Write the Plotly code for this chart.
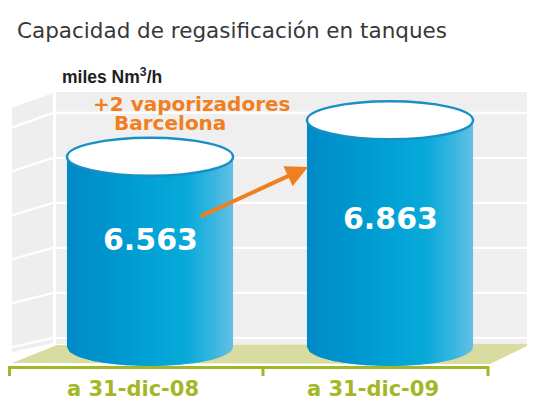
import numpy as np
import plotly.graph_objects as go

# ---------------- data ----------------
TITLE = "Capacidad de regasificación en tanques"
UNIT = "miles Nm<sup>3</sup>/h"
CATEGORIES = ["a 31-dic-08", "a 31-dic-09"]
VALUES = [6563, 6863]
NOTE_LINES = ["+2 vaporizadores", "Barcelona"]

# ---------------- layout constants ----------------
OFF = 8                     # page body margin around the figure
W, H = 535 - OFF, 403 - OFF
BASE = 5000                 # value on which the cylinders stand
Y_RANGE = [4539.5, 7786]
X_RANGE = [-0.5917, 1.6042]
R = 0.346                   # cylinder radius (x units)
E_PX = 19                   # ellipse half-height (pixels)
Y_SPAN = Y_RANGE[1] - Y_RANGE[0]
E = E_PX * Y_SPAN / H       # ellipse half-height (y units)
GRID0, GRID_STEP, GRID_N = 5074, 370, 6

ORANGE = "#f07f21"
OLIVE = "#a3b726"
BLUE_LINE = "#1790c6"
STOPS = [(0.0, (0, 137, 198)), (0.45, (0, 160, 212)), (0.72, (8, 170, 217)),
         (0.88, (55, 182, 224)), (1.0, (100, 192, 228))]


def grad(t):
    for (t0, c0), (t1, c1) in zip(STOPS[:-1], STOPS[1:]):
        if t <= t1:
            f = (t - t0) / (t1 - t0)
            c = [round(a + (b - a) * f) for a, b in zip(c0, c1)]
            return f"rgb({c[0]},{c[1]},{c[2]})"
    c = STOPS[-1][1]
    return f"rgb({c[0]},{c[1]},{c[2]})"


def px(x):
    """screen pixel x -> paper"""
    return (x - OFF) / W


def py(y):
    """screen pixel y -> paper"""
    return 1 - (y - OFF) / H


def ypx_of(v):
    """data y -> screen pixel y"""
    return OFF + (Y_RANGE[1] - v) / Y_SPAN * H


def ppath(pts, close=True):
    s = "M " + " L ".join(f"{px(x):.5f},{py(y):.5f}" for x, y in pts)
    return s + (" Z" if close else "")


fig = go.Figure()
shapes = []

# back wall
shapes.append(dict(type="rect", xref="paper", yref="paper", layer="below",
                   x0=px(56), x1=px(533), y0=py(344), y1=py(92),
                   fillcolor="#efefef", line=dict(width=0)))
# left wall
shapes.append(dict(type="path", xref="paper", yref="paper", layer="below",
                   path=ppath([(12, 108), (53, 93), (53, 343), (12, 352)]),
                   fillcolor="#eeeeee", line=dict(width=0)))
# gridlines (back wall + slanted on the side wall)
for k in range(GRID_N):
    gv = GRID0 + k * GRID_STEP
    shapes.append(dict(type="line", xref="paper", yref="y", layer="below",
                       x0=px(56), x1=px(533), y0=gv, y1=gv,
                       line=dict(color="white", width=2.2)))
    yr = ypx_of(gv)
    slant = 15 - 6 * (yr - 93) / (343 - 93)
    shapes.append(dict(type="path", xref="paper", yref="paper", layer="below",
                       path=ppath([(12, yr + slant), (53, yr)], close=False),
                       line=dict(color="white", width=2.2)))
# floor
shapes.append(dict(type="path", xref="paper", yref="paper", layer="below",
                   path=ppath([(12, 363), (57, 345), (531, 344), (490, 364)]),
                   fillcolor="#d9dca1", line=dict(width=0)))
# front axis
shapes.append(dict(type="path", xref="paper", yref="paper", layer="above",
                   path=ppath([(9.5, 376), (9.5, 367.5), (488, 367.5), (488, 376)], close=False),
                   line=dict(color=OLIVE, width=3)))
shapes.append(dict(type="line", xref="paper", yref="paper", layer="above",
                   x0=px(263), x1=px(263), y0=py(367.5), y1=py(376),
                   line=dict(color=OLIVE, width=3)))

# cylinders: gradient body stripes
N = 48
for i, v in enumerate(VALUES):
    edges = np.linspace(i - R, i + R, N + 1)
    dx = edges[1] - edges[0]
    for j in range(N):
        xa = edges[j]
        xb = min(edges[j + 1] + 0.4 * dx, i + R)
        xs = np.linspace(xa, xb, 5)
        ys = BASE - E * np.sqrt(np.clip(1 - ((xs - i) / R) ** 2, 0, 1))
        fig.add_trace(go.Scatter(
            x=list(xs) + [xb, xa], y=list(ys) + [v, v],
            mode="lines", fill="toself", fillcolor=grad((j + 0.5) / N),
            line=dict(width=0), hoverinfo="skip", showlegend=False))
    # top ellipse
    shapes.append(dict(type="circle", xref="x", yref="y", layer="above",
                       x0=i - R, x1=i + R, y0=v - E, y1=v + E,
                       fillcolor="white", line=dict(color=BLUE_LINE, width=2.5)))

annotations = []
# value labels
for i, v in enumerate(VALUES):
    annotations.append(dict(
        x=i, y=BASE + 0.565 * (v - BASE), xref="x", yref="y",
        text=f"{v:,}".replace(",", "."), showarrow=False,
        font=dict(family="DejaVu Sans", size=30, color="white", weight="bold"),
        xanchor="center", yanchor="middle"))
# category labels
for i, c in enumerate(CATEGORIES):
    annotations.append(dict(
        x=i - 0.07, y=py(389), xref="x", yref="paper", text=c, showarrow=False,
        font=dict(family="DejaVu Sans", size=21, color=OLIVE, weight="bold"),
        xanchor="center", yanchor="middle"))
# title
annotations.append(dict(
    x=px(15), y=py(31), xref="paper", yref="paper", text=TITLE, showarrow=False,
    font=dict(family="DejaVu Sans", size=21.5, color="#383838"),
    xanchor="left", yanchor="middle"))
# unit
annotations.append(dict(
    x=px(60), y=py(76), xref="paper", yref="paper", text=UNIT, showarrow=False,
    font=dict(family="Liberation Sans", size=17.5, color="#1e1e1e", weight="bold"),
    xanchor="left", yanchor="middle"))
# orange note
annotations.append(dict(
    x=px(91), y=py(104), xref="paper", yref="paper", text=NOTE_LINES[0], showarrow=False,
    font=dict(family="DejaVu Sans", size=20, color=ORANGE, weight="bold"),
    xanchor="left", yanchor="middle"))
annotations.append(dict(
    x=px(112), y=py(123), xref="paper", yref="paper", text=NOTE_LINES[1], showarrow=False,
    font=dict(family="DejaVu Sans", size=20, color=ORANGE, weight="bold"),
    xanchor="left", yanchor="middle"))
# arrow
annotations.append(dict(
    x=px(308), y=py(167), xref="paper", yref="paper", text="", showarrow=True,
    ax=-109, ay=50, arrowhead=2, arrowsize=1.1, arrowwidth=4,
    arrowcolor=ORANGE, standoff=0))

fig.update_layout(
    width=W, height=H, autosize=False,
    margin=dict(l=0, r=0, t=0, b=0),
    paper_bgcolor="white", plot_bgcolor="white",
    xaxis=dict(range=X_RANGE, visible=False, fixedrange=True),
    yaxis=dict(range=Y_RANGE, visible=False, fixedrange=True),
    shapes=shapes, annotations=annotations, showlegend=False,
)

fig.write_html("out.html")
